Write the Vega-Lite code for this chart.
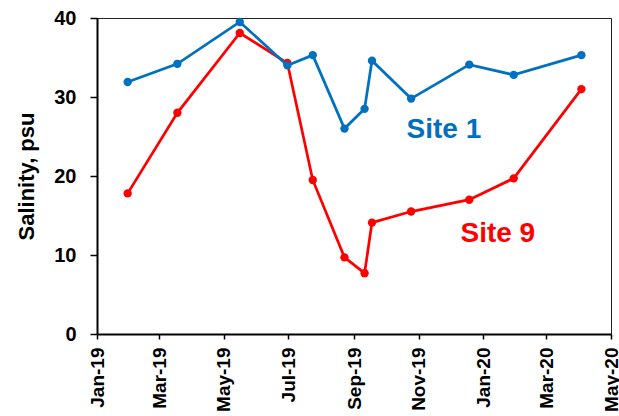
{
  "$schema": "https://vega.github.io/schema/vega-lite/v6.json",
  "width": 514,
  "height": 316,
  "autosize": {"type": "none"},
  "padding": {"left": 97, "top": 18, "right": 8, "bottom": 82},
  "background": "white",
  "config": {
    "view": {"stroke": "#222", "strokeWidth": 1},
    "font": "Liberation Sans",
    "axis": {
      "grid": false,
      "domainColor": "black",
      "domainWidth": 2,
      "tickColor": "black",
      "tickWidth": 1.5,
      "labelColor": "black",
      "labelFont": "Liberation Sans",
      "labelFontWeight": "bold",
      "titleFont": "Liberation Sans",
      "titleFontWeight": "bold",
      "titleColor": "black"
    }
  },
  "datasets": {
    "salinity": [
      {"date": "2019-01-30", "site": "Site 1", "salinity": 31.9},
      {"date": "2019-03-18", "site": "Site 1", "salinity": 34.2},
      {"date": "2019-05-16", "site": "Site 1", "salinity": 39.5},
      {"date": "2019-06-30", "site": "Site 1", "salinity": 34.0},
      {"date": "2019-07-24", "site": "Site 1", "salinity": 35.3},
      {"date": "2019-08-23", "site": "Site 1", "salinity": 26.0},
      {"date": "2019-09-11", "site": "Site 1", "salinity": 28.5},
      {"date": "2019-09-18", "site": "Site 1", "salinity": 34.6},
      {"date": "2019-10-25", "site": "Site 1", "salinity": 29.8},
      {"date": "2019-12-19", "site": "Site 1", "salinity": 34.1},
      {"date": "2020-01-30", "site": "Site 1", "salinity": 32.8},
      {"date": "2020-04-03", "site": "Site 1", "salinity": 35.3},
      {"date": "2019-01-30", "site": "Site 9", "salinity": 17.8},
      {"date": "2019-03-18", "site": "Site 9", "salinity": 28.0},
      {"date": "2019-05-16", "site": "Site 9", "salinity": 38.1},
      {"date": "2019-06-30", "site": "Site 9", "salinity": 34.3},
      {"date": "2019-07-24", "site": "Site 9", "salinity": 19.5},
      {"date": "2019-08-23", "site": "Site 9", "salinity": 9.7},
      {"date": "2019-09-11", "site": "Site 9", "salinity": 7.7},
      {"date": "2019-09-18", "site": "Site 9", "salinity": 14.1},
      {"date": "2019-10-25", "site": "Site 9", "salinity": 15.5},
      {"date": "2019-12-19", "site": "Site 9", "salinity": 17.0},
      {"date": "2020-01-30", "site": "Site 9", "salinity": 19.7},
      {"date": "2020-04-03", "site": "Site 9", "salinity": 31.0}
    ],
    "labels": [
      {"date": "2019-11-25", "site": "Site 1", "salinity": 24.8},
      {"date": "2020-01-15", "site": "Site 9", "salinity": 11.6}
    ]
  },
  "encoding": {
    "x": {
      "field": "date",
      "type": "temporal",
      "scale": {
        "type": "utc",
        "domain": [
          {"year": 2019, "month": 1, "date": 1, "utc": true},
          {"year": 2020, "month": 5, "date": 1, "utc": true}
        ]
      },
      "axis": {
        "title": null,
        "format": "%b-%y",
        "labelAngle": -90,
        "labelFontSize": 19,
        "labelPadding": 8,
        "tickSize": 5,
        "labelFlush": false,
        "labelOverlap": false,
        "values": [
          {"year": 2019, "month": 1, "date": 1, "utc": true},
          {"year": 2019, "month": 3, "date": 1, "utc": true},
          {"year": 2019, "month": 5, "date": 1, "utc": true},
          {"year": 2019, "month": 7, "date": 1, "utc": true},
          {"year": 2019, "month": 9, "date": 1, "utc": true},
          {"year": 2019, "month": 11, "date": 1, "utc": true},
          {"year": 2020, "month": 1, "date": 1, "utc": true},
          {"year": 2020, "month": 3, "date": 1, "utc": true},
          {"year": 2020, "month": 5, "date": 1, "utc": true}
        ]
      }
    },
    "y": {
      "field": "salinity",
      "type": "quantitative",
      "scale": {"domain": [0, 40], "nice": false, "zero": true},
      "axis": {
        "title": "Salinity, psu",
        "titleFontSize": 22,
        "titlePadding": 15,
        "labelFontSize": 20,
        "labelPadding": 14,
        "tickSize": 7,
        "values": [0, 10, 20, 30, 40]
      }
    },
    "color": {
      "field": "site",
      "type": "nominal",
      "scale": {"domain": ["Site 1", "Site 9"], "range": ["#0070C0", "#FF0000"]},
      "legend": null
    }
  },
  "layer": [
    {
      "data": {"name": "salinity"},
      "transform": [{"filter": "datum.site === 'Site 9'"}],
      "mark": {"type": "line", "strokeWidth": 2.75, "point": {"filled": true, "size": 70, "opacity": 1}}
    },
    {
      "data": {"name": "salinity"},
      "transform": [{"filter": "datum.site === 'Site 1'"}],
      "mark": {"type": "line", "strokeWidth": 2.75, "point": {"filled": true, "size": 70, "opacity": 1}}
    },
    {
      "data": {"name": "labels"},
      "mark": {
        "type": "text",
        "font": "Liberation Sans",
        "fontWeight": "bold",
        "fontSize": 28,
        "align": "center",
        "baseline": "alphabetic"
      },
      "encoding": {"text": {"field": "site"}}
    }
  ]
}
